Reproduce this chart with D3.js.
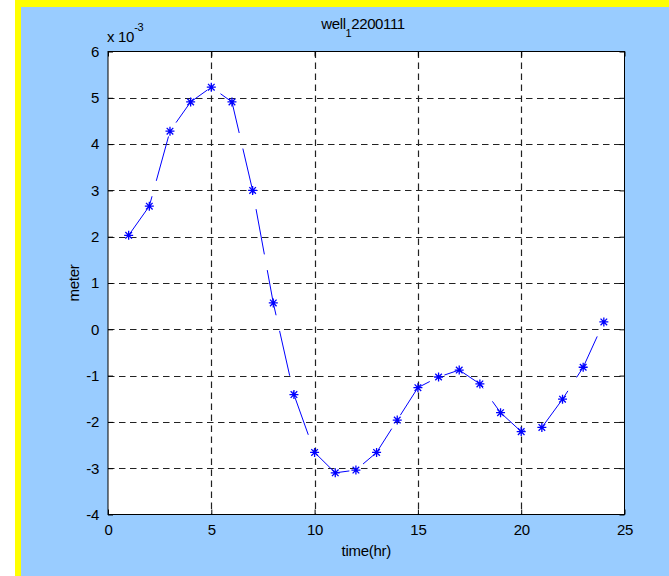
<!DOCTYPE html>
<html><head><meta charset="utf-8">
<script src="https://cdn.jsdelivr.net/npm/d3@7"></script>
<style>body{margin:0;background:#fff;}svg{display:block;}text{font-family:Arial,"Liberation Sans",Helvetica,sans-serif;}</style>
</head><body>
<svg id="c" width="669" height="576"></svg>
<script>
const hours = [1,2,3,4,5,6,7,8,9,10,11,12,13,14,15,16,17,18,19,20,21,22,23,24];
const meters = [2.03,2.66,4.28,4.91,5.23,4.91,3.0,0.57,-1.41,-2.66,-3.1,-3.04,-2.66,-1.96,-1.26,-1.03,-0.88,-1.18,-1.80,-2.21,-2.12,-1.51,-0.82,0.16];
const xTicks = [0,5,10,15,20,25];
const yTicks = [-4,-3,-2,-1,0,1,2,3,4,5,6];

const svg = d3.select("#c");
svg.append("rect").attr("x",15).attr("y",0).attr("width",654).attr("height",576).attr("fill","#FFFF00");
svg.append("rect").attr("x",21).attr("y",7).attr("width",648).attr("height",569).attr("fill","#99CCFF");

const L=108, R=624.5, T=51.5, B=514.5;
const x = d3.scaleLinear().domain([0,25]).range([L,R]);
const y = d3.scaleLinear().domain([-4,6]).range([B,T]);

svg.append("rect").attr("x",L).attr("y",T).attr("width",R-L).attr("height",B-T).attr("fill","#fff");

const g = svg.append("g");
g.selectAll(".gx").data(xTicks.filter(d=>d>0&&d<25)).enter().append("line")
 .attr("x1",d=>Math.round(x(d))+0.5).attr("x2",d=>Math.round(x(d))+0.5).attr("y1",T).attr("y2",B)
 .attr("stroke","#222").attr("stroke-width",1.2).attr("stroke-dasharray","6.5,4.5");
g.selectAll(".gy").data(yTicks.filter(d=>d>-4&&d<6)).enter().append("line")
 .attr("y1",d=>Math.round(y(d))+0.5).attr("y2",d=>Math.round(y(d))+0.5).attr("x1",L).attr("x2",R)
 .attr("stroke","#222").attr("stroke-width",1.2).attr("stroke-dasharray","6.5,4.5");

const fmt = d => String(d);
const axB = d3.axisBottom(x).tickValues(xTicks).tickSize(-5).tickPadding(10).tickFormat(fmt);
const axT = d3.axisTop(x).tickValues(xTicks).tickSize(-5).tickFormat("");
const axL = d3.axisLeft(y).tickValues(yTicks).tickSize(-5).tickPadding(9).tickFormat(fmt);
const axR = d3.axisRight(y).tickValues(yTicks).tickSize(-5).tickFormat("");
function style(sel){sel.select(".domain").attr("stroke","#000");sel.selectAll(".tick line").attr("stroke","#000");
 sel.selectAll("text").attr("font-size","15px").attr("fill","#000").attr("letter-spacing","-0.3").attr("font-family","Arial,'Liberation Sans',sans-serif");}
svg.append("g").attr("transform",`translate(0,${B})`).call(axB).call(style);
svg.append("g").attr("transform",`translate(0,${T})`).call(axT).call(style);
svg.append("g").attr("transform",`translate(${L},0)`).call(axL).call(style);
svg.append("g").attr("transform",`translate(${R},0)`).call(axR).call(style);
svg.selectAll(".domain").attr("d",null);
svg.append("rect").attr("x",L).attr("y",T).attr("width",R-L).attr("height",B-T).attr("fill","none").attr("stroke","#000").attr("stroke-width",1);

const pts = hours.map((h,i)=>[h,meters[i]]);
const line = d3.line().x(d=>x(d[0])).y(d=>y(d[1]));
svg.append("path").datum(pts).attr("d",line).attr("fill","none").attr("stroke","#0000FF")
 .attr("stroke-width",1).attr("stroke-dasharray","46,16");
const s=4.5, dg=3.3;
const ast = `M${-s},0L${s},0M0,${-s}L0,${s}M${-dg},${-dg}L${dg},${dg}M${-dg},${dg}L${dg},${-dg}`;
svg.selectAll(".m").data(pts).enter().append("path")
 .attr("transform",d=>`translate(${x(d[0])},${y(d[1])})`).attr("d",ast)
 .attr("stroke","#0000FF").attr("stroke-width",1.3).attr("fill","none");

const t = svg.append("text").attr("x",363).attr("y",29).attr("text-anchor","middle").attr("font-size","15px").attr("fill","#000").attr("letter-spacing","-0.4");
t.append("tspan").text("well");
t.append("tspan").attr("dy",8).attr("font-size","11px").text("1");
t.append("tspan").attr("dy",-8).text("2200111");

const e = svg.append("text").attr("x",107).attr("y",42).attr("font-size","15px").attr("fill","#000").attr("letter-spacing","-0.3");
e.append("tspan").text("x 10");
e.append("tspan").attr("dy",-11).attr("font-size","11px").text("-3");

svg.append("text").attr("x",x(12.5)).attr("y",556).attr("text-anchor","middle").attr("font-size","15px").attr("fill","#000").attr("letter-spacing","-0.3").text("time(hr)");
svg.append("text").attr("transform",`translate(79,${(T+B)/2}) rotate(-90)`).attr("text-anchor","middle").attr("font-size","15px").attr("fill","#000").attr("letter-spacing","-0.3").text("meter");
</script>
</body></html>
